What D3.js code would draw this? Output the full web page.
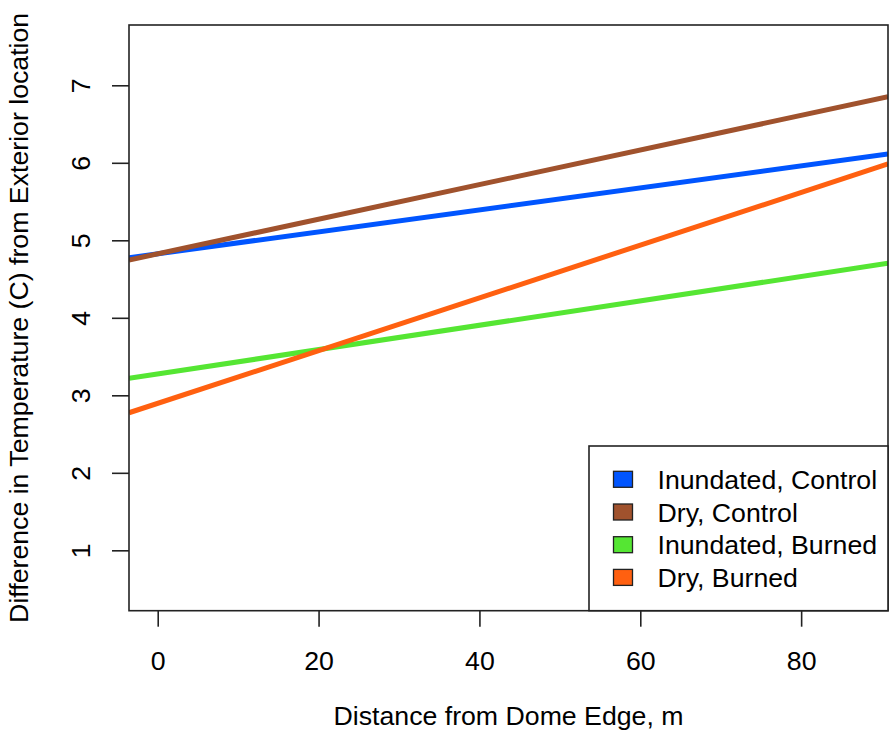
<!DOCTYPE html>
<html>
<head>
<meta charset="utf-8">
<script src="https://cdn.jsdelivr.net/npm/d3@7"></script>
<style>
  html, body { margin: 0; padding: 0; background: #fff; }
  svg text { font-family: "Liberation Sans", Arial, Helvetica, sans-serif; fill: #000; }
</style>
</head>
<body>
<svg id="chart" width="889" height="740"></svg>
<script>
// ---- data ----
const seriesNames = ["Inundated, Control", "Dry, Control", "Inundated, Burned", "Dry, Burned"];
const seriesColors = ["#0055FF", "#A0522D", "#55E633", "#FF6010"];
// x positions where the fitted lines are sampled (plot edges)
const xPoints = [-3.57, 90.8];
const inundatedControl = [4.775, 6.113];
const dryControl = [4.746, 6.853];
const inundatedBurned = [3.219, 4.703];
const dryBurned = [2.775, 5.985];
const seriesValues = [inundatedControl, dryControl, inundatedBurned, dryBurned];
const xTicks = [0, 20, 40, 60, 80];
const yTicks = [1, 2, 3, 4, 5, 6, 7];
const xTitle = "Distance from Dome Edge, m";
const yTitle = "Difference in Temperature (C) from Exterior location";

// ---- layout ----
const plot = { left: 129, right: 888, top: 25, bottom: 610.7 };
const fontSize = 26.7;

const svg = d3.select("#chart");
const x = d3.scaleLinear().domain([-3.57, 90.8]).range([plot.left, plot.right]);
const y = d3.scaleLinear().domain([0.221, 7.778]).range([plot.bottom, plot.top]);

svg.append("defs").append("clipPath").attr("id", "clip")
  .append("rect")
  .attr("x", plot.left).attr("y", plot.top)
  .attr("width", plot.right - plot.left).attr("height", plot.bottom - plot.top);

// lines
const line = d3.line().x(d => x(d[0])).y(d => y(d[1]));
const g = svg.append("g").attr("clip-path", "url(#clip)");
seriesValues.forEach((vals, i) => {
  g.append("path")
    .datum(vals.map((v, j) => [xPoints[j], v]))
    .attr("d", line)
    .attr("fill", "none")
    .attr("stroke", seriesColors[i])
    .attr("stroke-width", 5);
});

// x axis
const xAxis = d3.axisBottom(x).tickValues(xTicks).tickSize(16).tickPadding(24).tickFormat(d3.format("d"));
const gx = svg.append("g").attr("transform", `translate(0,${plot.bottom})`).call(xAxis);
gx.select(".domain").remove();
gx.selectAll("line").attr("stroke", "#222").attr("stroke-width", 1.6);
gx.selectAll("text").attr("font-size", fontSize).attr("fill", "#000")
  .attr("font-family", "Liberation Sans, Arial, sans-serif");

// y axis
const yAxis = d3.axisLeft(y).tickValues(yTicks).tickSize(17).tickFormat(d3.format("d"));
const gy = svg.append("g").attr("transform", `translate(${plot.left},0)`).call(yAxis);
gy.select(".domain").remove();
gy.selectAll("line").attr("stroke", "#222").attr("stroke-width", 1.6);
gy.selectAll("text").remove();
gy.selectAll(".tick").append("text")
  .attr("transform", "translate(-39,0) rotate(-90)")
  .attr("text-anchor", "middle")
  .attr("dy", 0)
  .attr("font-size", fontSize)
  .attr("font-family", "Liberation Sans, Arial, sans-serif")
  .text(d => d);

// frame
svg.append("rect")
  .attr("x", plot.left).attr("y", plot.top)
  .attr("width", plot.right - plot.left).attr("height", plot.bottom - plot.top)
  .attr("fill", "none").attr("stroke", "#222").attr("stroke-width", 1.6);

// titles
svg.append("text")
  .attr("x", (plot.left + plot.right) / 2).attr("y", 725)
  .attr("text-anchor", "middle").attr("font-size", fontSize)
  .text(xTitle);
svg.append("text")
  .attr("transform", `translate(28,${(plot.top + plot.bottom) / 2}) rotate(-90)`)
  .attr("text-anchor", "middle").attr("font-size", fontSize)
  .text(yTitle);

// legend
const lg = { left: 589, top: 446, rowH: 32.7, firstY: 479.3 };
svg.append("rect")
  .attr("x", lg.left).attr("y", lg.top)
  .attr("width", plot.right - lg.left).attr("height", plot.bottom - lg.top)
  .attr("fill", "#fff").attr("stroke", "#222").attr("stroke-width", 1.6);
seriesNames.forEach((name, i) => {
  const cy = lg.firstY + i * lg.rowH;
  svg.append("rect")
    .attr("x", 613.5).attr("y", cy - 8)
    .attr("width", 19).attr("height", 16)
    .attr("fill", seriesColors[i]).attr("stroke", "#222").attr("stroke-width", 1.3);
  svg.append("text")
    .attr("x", 657.5).attr("y", cy)
    .attr("dy", "0.36em")
    .attr("font-size", fontSize)
    .text(name);
});
</script>
</body>
</html>
